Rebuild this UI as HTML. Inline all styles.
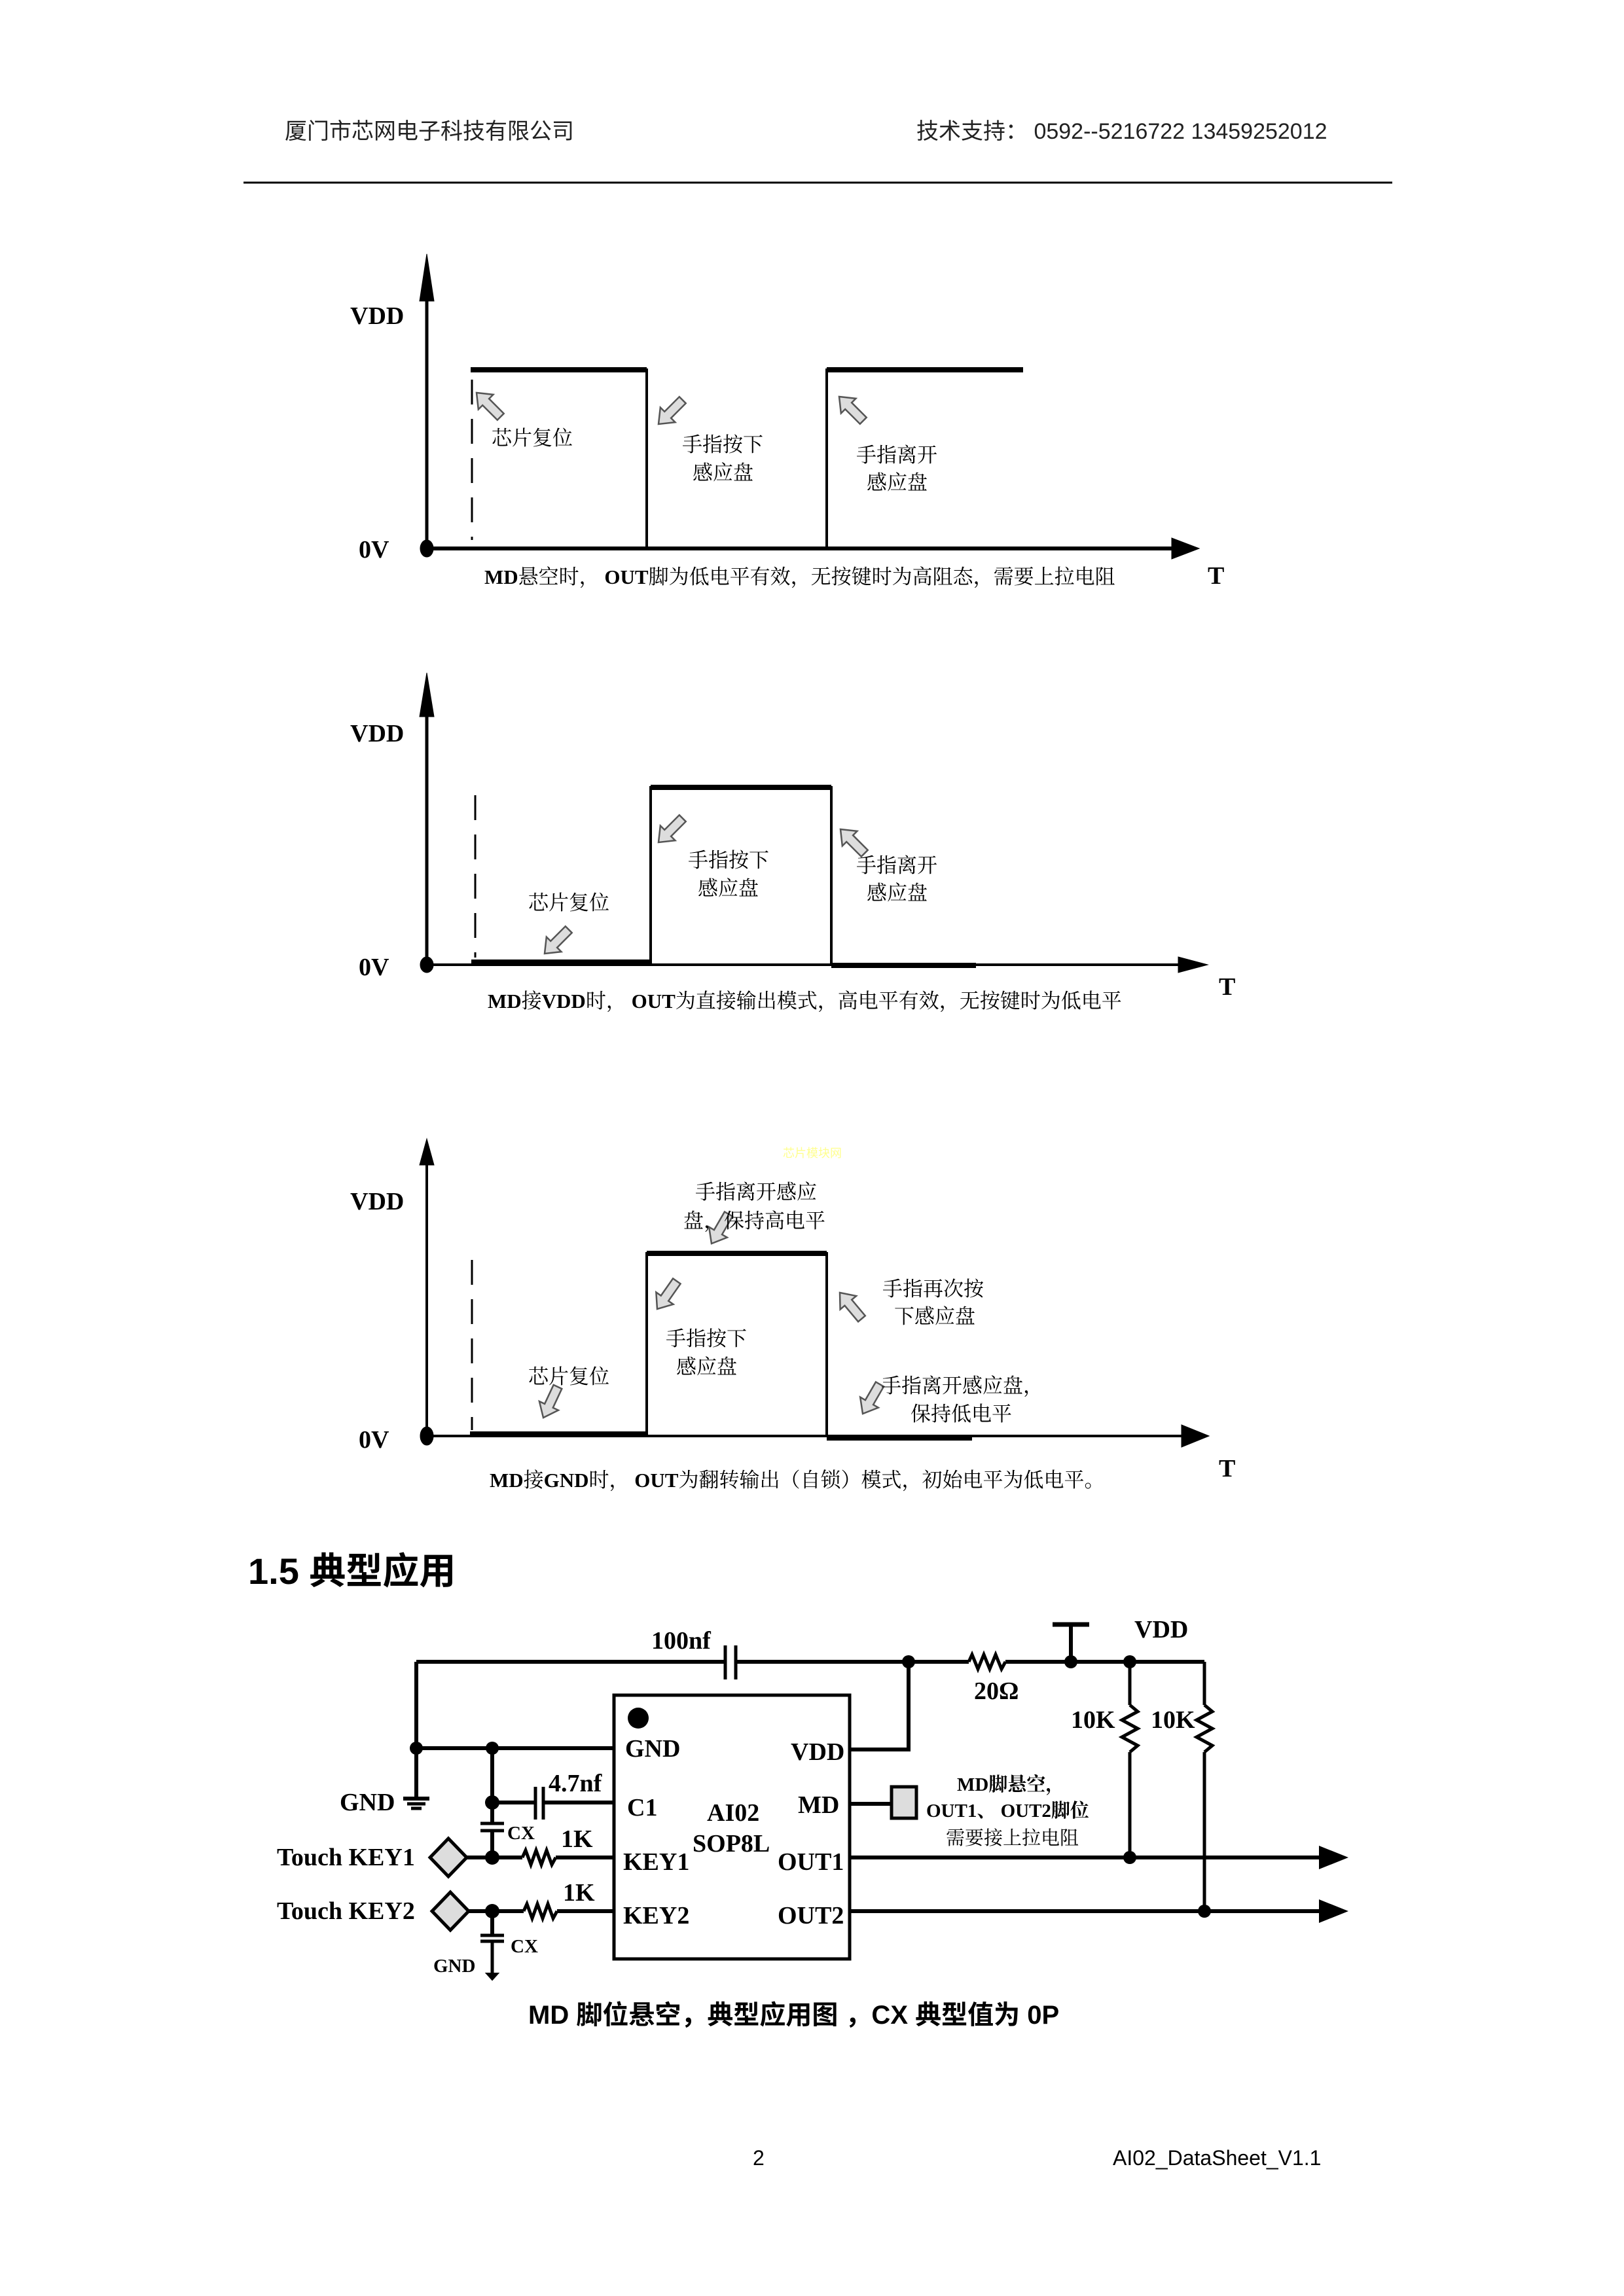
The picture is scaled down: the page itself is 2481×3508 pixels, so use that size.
<!DOCTYPE html>
<html><head><meta charset="utf-8"><style>
html,body{margin:0;padding:0;background:#fff}
svg{display:block}
.s{font-family:"Liberation Serif","Noto Serif CJK SC",serif;font-weight:bold}
.c{font-family:"Liberation Serif","Noto Serif CJK SC",serif}
.h{font-family:"Liberation Sans","Noto Sans CJK SC",sans-serif}
</style></head><body>
<svg width="2481" height="3508" viewBox="0 0 2481 3508" xmlns="http://www.w3.org/2000/svg">
<defs>
<polygon id="ar" points="0,0 20,-16 20,-7 52,-7 52,7 20,7 20,16" fill="#ddd" stroke="#555" stroke-width="2.5"/>
</defs>
<!-- header -->
<text x="435" y="212" class="h" font-size="34" fill="#222">厦门市芯网电子科技有限公司</text>
<text x="1400" y="212" class="h" font-size="34" fill="#222">技术支持：  0592--5216722    13459252012</text>
<line x1="372" y1="279" x2="2127" y2="279" stroke="#000" stroke-width="3"/>

<!-- CHART 1 -->
<g stroke="#000" fill="none">
<line x1="652" y1="460" x2="652" y2="838" stroke-width="5"/>
<polygon points="652,388 641,460 663,460" fill="#000"/>
<line x1="652" y1="838" x2="1790" y2="838" stroke-width="6"/>
<polygon points="1832,838 1790,822 1790,854" fill="#000"/>
<ellipse cx="652" cy="838" rx="10" ry="13" fill="#000"/>
<polyline points="719,565 988,565 988,838" stroke-width="4"/>
<line x1="719" y1="565" x2="988" y2="565" stroke-width="8"/>
<polyline points="1263,838 1263,565 1563,565" stroke-width="4"/>
<line x1="1263" y1="565" x2="1563" y2="565" stroke-width="8"/>
<line x1="721" y1="580" x2="721" y2="825" stroke-width="3" stroke-dasharray="38,22"/>
</g>
<text x="535" y="495" class="s" font-size="38">VDD</text>
<text x="548" y="852" class="s" font-size="38">0V</text>
<text x="1845" y="892" class="s" font-size="38">T</text>
<text x="740" y="892" class="c" font-size="31"><tspan font-weight="bold">MD</tspan>悬空时， <tspan font-weight="bold">OUT</tspan>脚为低电平有效，无按键时为高阻态，需要上拉电阻</text>
<use href="#ar" transform="translate(728,600) rotate(45)"/>
<use href="#ar" transform="translate(1006,648) rotate(-45)"/>
<use href="#ar" transform="translate(1282,606) rotate(45)"/>
<g class="c" font-size="31">
<text x="751" y="680">芯片复位</text>
<text x="1042" y="690">手指按下</text><text x="1058" y="733">感应盘</text>
<text x="1308" y="706">手指离开</text><text x="1324" y="748">感应盘</text>
</g>

<!-- CHART 2 -->
<g stroke="#000" fill="none">
<line x1="652" y1="1095" x2="652" y2="1474" stroke-width="5"/>
<polygon points="652,1028 641,1095 663,1095" fill="#000"/>
<line x1="652" y1="1474" x2="1800" y2="1474" stroke-width="4"/>
<polygon points="1845,1474 1800,1462 1800,1486" fill="#000"/>
<ellipse cx="652" cy="1474" rx="10" ry="12" fill="#000"/>
<line x1="720" y1="1470" x2="994" y2="1470" stroke-width="8"/>
<polyline points="994,1474 994,1203 1270,1203 1270,1474" stroke-width="4"/>
<line x1="994" y1="1203" x2="1270" y2="1203" stroke-width="8"/>
<line x1="1270" y1="1475" x2="1491" y2="1475" stroke-width="8"/>
<line x1="726" y1="1215" x2="726" y2="1463" stroke-width="3" stroke-dasharray="38,22"/>
</g>
<text x="535" y="1133" class="s" font-size="38">VDD</text>
<text x="548" y="1490" class="s" font-size="38">0V</text>
<text x="1862" y="1520" class="s" font-size="38">T</text>
<text x="745" y="1540" class="c" font-size="31"><tspan font-weight="bold">MD</tspan>接<tspan font-weight="bold">VDD</tspan>时， <tspan font-weight="bold">OUT</tspan>为直接输出模式，高电平有效，无按键时为低电平</text>
<use href="#ar" transform="translate(832,1457) rotate(-45)"/>
<use href="#ar" transform="translate(1006,1287) rotate(-45)"/>
<use href="#ar" transform="translate(1284,1267) rotate(45)"/>
<g class="c" font-size="31">
<text x="807" y="1390">芯片复位</text>
<text x="1051" y="1325">手指按下</text><text x="1066" y="1368">感应盘</text>
<text x="1308" y="1333">手指离开</text><text x="1324" y="1375">感应盘</text>
</g>

<!-- CHART 3 -->
<text x="1196" y="1768" class="h" font-size="18" fill="#ffff90">芯片模块网</text>
<g stroke="#000" fill="none">
<line x1="652" y1="1778" x2="652" y2="2194" stroke-width="4"/>
<polygon points="652,1740 641,1780 663,1780" fill="#000"/>
<line x1="652" y1="2194" x2="1805" y2="2194" stroke-width="4"/>
<polygon points="1847,2194 1805,2177 1805,2211" fill="#000"/>
<ellipse cx="652" cy="2194" rx="10" ry="14" fill="#000"/>
<line x1="718" y1="2191" x2="988" y2="2191" stroke-width="8"/>
<polyline points="988,2194 988,1915 1263,1915 1263,2194" stroke-width="4"/>
<line x1="988" y1="1915" x2="1263" y2="1915" stroke-width="8"/>
<line x1="1263" y1="2197" x2="1485" y2="2197" stroke-width="8"/>
<line x1="721" y1="1925" x2="721" y2="2185" stroke-width="3" stroke-dasharray="38,22"/>
</g>
<text x="535" y="1848" class="s" font-size="38">VDD</text>
<text x="548" y="2212" class="s" font-size="38">0V</text>
<text x="1862" y="2256" class="s" font-size="38">T</text>
<text x="748" y="2272" class="c" font-size="31"><tspan font-weight="bold">MD</tspan>接<tspan font-weight="bold">GND</tspan>时， <tspan font-weight="bold">OUT</tspan>为翻转输出（自锁）模式，初始电平为低电平。</text>
<use href="#ar" transform="translate(1087,1900) rotate(-60)"/>
<use href="#ar" transform="translate(1004,2000) rotate(-55)"/>
<use href="#ar" transform="translate(1283,1975) rotate(50)"/>
<use href="#ar" transform="translate(830,2166) rotate(-65)"/>
<use href="#ar" transform="translate(1318,2160) rotate(-60)"/>
<g class="c" font-size="31">
<text x="1062" y="1832">手指离开感应</text><text x="1044" y="1876">盘，保持高电平</text>
<text x="1348" y="1980">手指再次按</text><text x="1366" y="2022">下感应盘</text>
<text x="1017" y="2056">手指按下</text><text x="1033" y="2099">感应盘</text>
<text x="807" y="2114">芯片复位</text>
<text x="1346" y="2128">手指离开感应盘，</text><text x="1391" y="2171">保持低电平</text>
</g>

<!-- Section heading -->
<text x="379" y="2420" class="h" font-size="56" font-weight="bold">1.5 典型应用</text>

<!-- CIRCUIT -->
<g stroke="#000" fill="none" stroke-width="6">
<line x1="636" y1="2539" x2="1108" y2="2539"/>
<line x1="1124" y1="2539" x2="1480" y2="2539"/>
<line x1="1536" y1="2539" x2="1840" y2="2539"/>
<line x1="1108" y1="2514" x2="1108" y2="2566" stroke-width="5"/>
<line x1="1124" y1="2514" x2="1124" y2="2566" stroke-width="5"/>
<polyline points="1480,2539 1485,2528 1494,2550 1503,2528 1512,2550 1521,2528 1530,2550 1536,2539" stroke-width="5"/>
<line x1="1636" y1="2482" x2="1636" y2="2539"/>
<line x1="1608" y1="2482" x2="1664" y2="2482" stroke-width="7"/>
<line x1="636" y1="2539" x2="636" y2="2746"/>
<line x1="616" y1="2748" x2="656" y2="2748" stroke-width="6"/>
<line x1="622" y1="2756" x2="650" y2="2756" stroke-width="5"/>
<line x1="628" y1="2763" x2="644" y2="2763" stroke-width="5"/>
<line x1="636" y1="2671" x2="938" y2="2671"/>
<line x1="752" y1="2671" x2="752" y2="2786"/>
<line x1="752" y1="2798" x2="752" y2="2838"/>
<line x1="734" y1="2786" x2="770" y2="2786" stroke-width="5"/>
<line x1="734" y1="2797" x2="770" y2="2797" stroke-width="5"/>
<line x1="752" y1="2754" x2="818" y2="2754"/>
<line x1="830" y1="2754" x2="938" y2="2754"/>
<line x1="818" y1="2730" x2="818" y2="2780" stroke-width="5"/>
<line x1="830" y1="2730" x2="830" y2="2780" stroke-width="5"/>
<line x1="712" y1="2838" x2="798" y2="2838"/>
<polyline points="798,2838 803,2827 811,2849 819,2827 827,2849 835,2827 843,2849 849,2838" stroke-width="5"/>
<line x1="849" y1="2838" x2="938" y2="2838"/>
<line x1="715" y1="2920" x2="800" y2="2920"/>
<polyline points="800,2920 805,2909 813,2931 821,2909 829,2931 837,2909 845,2931 851,2920" stroke-width="5"/>
<line x1="851" y1="2920" x2="938" y2="2920"/>
<line x1="752" y1="2920" x2="752" y2="2957"/>
<line x1="734" y1="2957" x2="770" y2="2957" stroke-width="5"/>
<line x1="734" y1="2966" x2="770" y2="2966" stroke-width="5"/>
<line x1="752" y1="2966" x2="752" y2="3016" stroke-width="5"/>
<polygon points="743,3015 761,3015 752,3025" fill="#000" stroke-width="2"/>
<rect x="938" y="2590" width="360" height="403" stroke-width="5"/>
<polyline points="1298,2673 1388,2673 1388,2539"/>
<line x1="1298" y1="2756" x2="1362" y2="2756"/>
<line x1="1298" y1="2838" x2="2015" y2="2838"/>
<line x1="1298" y1="2920" x2="2015" y2="2920"/>
<line x1="1726" y1="2539" x2="1726" y2="2605" stroke-width="5"/>
<polyline points="1726,2605 1738,2615 1714,2628 1738,2641 1714,2654 1738,2667 1726,2677" stroke-width="5"/>
<line x1="1726" y1="2677" x2="1726" y2="2838" stroke-width="5"/>
<line x1="1840" y1="2539" x2="1840" y2="2605" stroke-width="5"/>
<polyline points="1840,2605 1852,2615 1828,2628 1852,2641 1828,2654 1852,2667 1840,2677" stroke-width="5"/>
<line x1="1840" y1="2677" x2="1840" y2="2920" stroke-width="5"/>
</g>
<g fill="#000">
<polygon points="2060,2838 2015,2820 2015,2856"/>
<polygon points="2060,2920 2015,2902 2015,2938"/>
<circle cx="1388" cy="2539" r="10"/><circle cx="1636" cy="2539" r="10"/><circle cx="1726" cy="2539" r="10"/>
<circle cx="636" cy="2671" r="10"/><circle cx="752" cy="2671" r="10"/><circle cx="752" cy="2754" r="11"/>
<circle cx="752" cy="2838" r="11"/><circle cx="752" cy="2920" r="11"/>
<circle cx="1726" cy="2838" r="10"/><circle cx="1840" cy="2920" r="10"/>
<circle cx="975" cy="2625" r="16"/>
</g>
<rect x="1362" y="2730" width="38" height="48" fill="#ddd" stroke="#000" stroke-width="5"/>
<polygon points="685,2809 713,2838 685,2867 657,2838" fill="#ddd" stroke="#000" stroke-width="5"/>
<polygon points="688,2891 716,2920 688,2949 660,2920" fill="#ddd" stroke="#000" stroke-width="5"/>
<g class="s" font-size="38">
<text x="995" y="2519">100nf</text>
<text x="1488" y="2596">20Ω</text>
<text x="1733" y="2502">VDD</text>
<text x="1636" y="2640">10K</text>
<text x="1758" y="2640">10K</text>
<text x="955" y="2684">GND</text>
<text x="1208" y="2689">VDD</text>
<text x="1219" y="2770">MD</text>
<text x="958" y="2774">C1</text>
<text x="1080" y="2782">AI02</text>
<text x="1058" y="2829">SOP8L</text>
<text x="952" y="2857">KEY1</text>
<text x="1188" y="2857">OUT1</text>
<text x="952" y="2939">KEY2</text>
<text x="1188" y="2939">OUT2</text>
<text x="519" y="2766">GND</text>
<text x="838" y="2737">4.7nf</text>
<text x="857" y="2822">1K</text>
<text x="860" y="2904">1K</text>
<text x="423" y="2850">Touch KEY1</text>
<text x="423" y="2932">Touch KEY2</text>
</g>
<g class="s" font-size="29">
<text x="775" y="2810">CX</text>
<text x="780" y="2983">CX</text>
<text x="662" y="3013">GND</text>
<text x="1462" y="2736">MD脚悬空，</text>
<text x="1415" y="2776">OUT1、 OUT2脚位</text>
</g>
<text x="1445" y="2818" class="c" font-size="29">需要接上拉电阻</text>

<text x="807" y="3092" class="h" font-size="40" font-weight="bold">MD 脚位悬空，典型应用图 ，CX 典型值为 0P</text>

<!-- footer -->
<text x="1150" y="3308" class="h" font-size="32">2</text>
<text x="1700" y="3308" class="h" font-size="32">AI02_DataSheet_V1.1</text>
</svg>
</body></html>
